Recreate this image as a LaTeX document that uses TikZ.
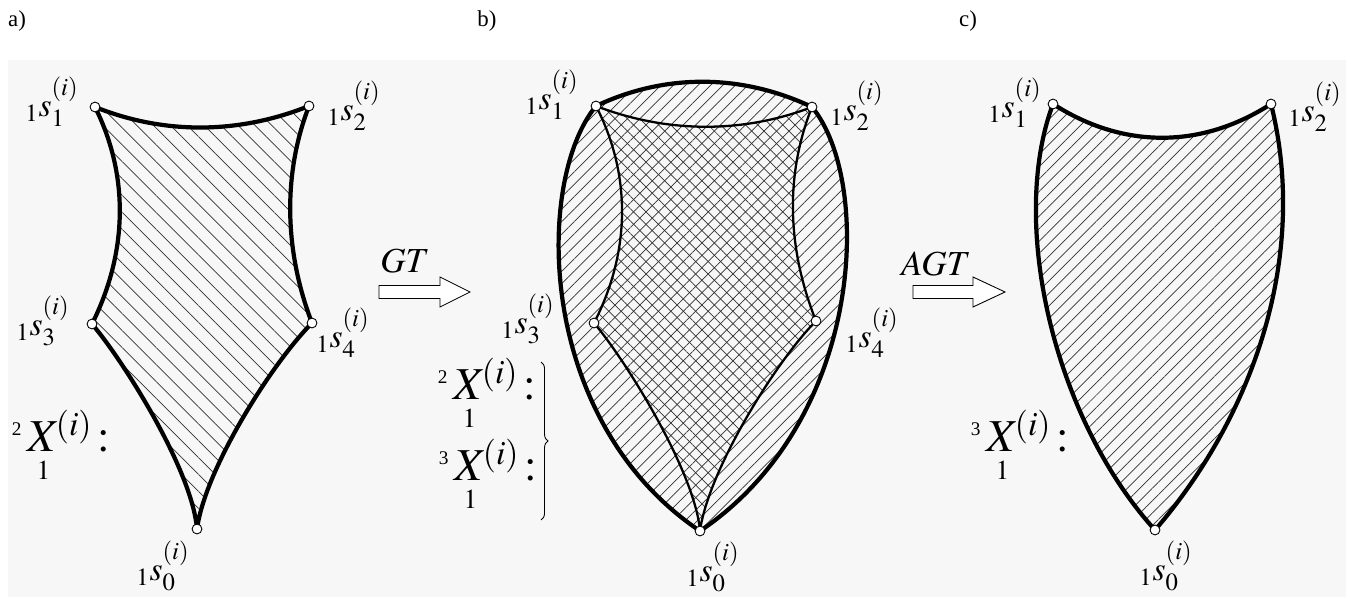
\documentclass[tikz,border=0pt]{standalone}
\usepackage{amsmath}
\usepackage{mathptmx}
\usepackage[no-math]{fontspec}
\setmainfont{Liberation Serif}
\usetikzlibrary{patterns.meta, decorations.pathreplacing}
\definecolor{panelbg}{RGB}{247,247,247}
\definecolor{hatch}{RGB}{50,50,50}
\tikzset{
  vertex/.style={circle, draw, fill=white, line width=0.5pt, minimum size=5.6pt, inner sep=0pt},
  border/.style={line width=2.4pt, line join=round, line cap=round},
  inner/.style={line width=1.3pt, line join=round, line cap=round},
  backhatch/.style={pattern={Lines[angle=-45, distance=6.8pt, line width=0.4pt]}, pattern color=hatch},
  forthatch/.style={pattern={Lines[angle=45, distance=5pt, line width=0.4pt]}, pattern color=hatch},
  crosshatch/.style={pattern={Lines[angle=-45, distance=5pt, line width=0.4pt]}, pattern color=hatch},
  slabel/.style={font=\fontsize{19}{22}\selectfont, inner sep=0pt},
  xlabel/.style={font=\fontsize{26}{30}\selectfont, inner sep=0pt},
  arrowlabel/.style={font=\fontsize{20}{22}\selectfont, inner sep=0pt},
  tag/.style={font=\fontsize{13}{15}\selectfont, inner sep=0pt},
  blockarrow/.style={draw, fill=white, line width=0.5pt, line join=miter},
  brace/.style={decorate, decoration={brace, amplitude=4pt}, line width=0.5pt},
}
\newcommand{\slab}[1]{${}_1s_{#1}^{\raisebox{5pt}{$\scriptstyle(i)$}}$}
\newcommand{\xlab}[1]{${}^{\text{\fontsize{11}{11}\selectfont #1}}\,\underset{\scriptscriptstyle 1}{X}{}^{\!(i)}\,\mathord{:}$}

\begin{document}
\begin{tikzpicture}[x=0.02cm, y=-0.02cm]
\useasboundingbox (0,0) rectangle (1354,597);
\fill[panelbg] (8,60) rectangle (1346,597);

% panel tags
\node[tag] (taga) at (17,21) {a)};
\node[tag] (tagb) at (487,21) {b)};
\node[tag] (tagc) at (968,21) {c)};

% a) two-sided region
\coordinate (a0) at (197,529);
\coordinate (a1) at (95,107);
\coordinate (a2) at (309,106);
\coordinate (a3) at (92,324);
\coordinate (a4) at (312,323);
\draw[border, backhatch] (a1) .. controls +(70,28) and +(-70,28) .. (a2)
  .. controls +(-27,70) and +(-27,-70) .. (a4)
  .. controls +(-40,40) and +(8,-60) .. (a0)
  .. controls +(-5,-60) and +(30,35) .. (a3)
  .. controls +(35,-70) and +(35,70) .. (a1) -- cycle;

% b) outer and inner region
\coordinate (b0) at (700,531);
\coordinate (b1) at (596,106);
\coordinate (b2) at (812,107);
\coordinate (b3) at (594,323);
\coordinate (b4) at (816,321);
\draw[border, forthatch] (b1) .. controls +(70,-33) and +(-70,-33) .. (b2)
  .. controls +(61,74) and +(165,-111) .. (b0)
  .. controls +(-165,-111) and +(-61,74) .. (b1) -- cycle;
\draw[inner, crosshatch] (b1) .. controls +(70,27) and +(-70,27) .. (b2)
  .. controls +(-28,70) and +(-28,-70) .. (b4)
  .. controls +(-40,40) and +(8,-60) .. (b0)
  .. controls +(-5,-60) and +(30,35) .. (b3)
  .. controls +(36,-70) and +(36,70) .. (b1) -- cycle;

% c) result
\coordinate (c0) at (1155,530);
\coordinate (c1) at (1053,104);
\coordinate (c2) at (1271,104);
\draw[border, forthatch] (c1) .. controls +(70,45) and +(-70,45) .. (c2)
  .. controls +(39,156) and +(95,-110) .. (c0)
  .. controls +(-100,-110) and +(-45,120) .. (c1) -- cycle;

\foreach \v in {a0,a1,a2,a3,a4,b0,b1,b2,b3,b4,c0,c1,c2}
  \node[vertex] (\v dot) at (\v) {};

% vertex labels
\node[slabel] (a1lab) at (52,102) {\slab{1}};
\node[slabel] (a2lab) at (354,106) {\slab{2}};
\node[slabel] (a3lab) at (43,321) {\slab{3}};
\node[slabel] (a4lab) at (343,333) {\slab{4}};
\node[slabel] (a0lab) at (163,566) {\slab{0}};
\node[slabel] (b1lab) at (552,95) {\slab{1}};
\node[slabel] (b2lab) at (857,106) {\slab{2}};
\node[slabel] (b3lab) at (528,319) {\slab{3}};
\node[slabel] (b4lab) at (872,333) {\slab{4}};
\node[slabel] (b0lab) at (713,567) {\slab{0}};
\node[slabel] (c1lab) at (1015,103) {\slab{1}};
\node[slabel] (c2lab) at (1315,107) {\slab{2}};
\node[slabel] (c0lab) at (1166,566) {\slab{0}};

% set labels
\node[xlabel] (xa) at (61,447) {\xlab{2}};
\node[xlabel] (xb2) at (487,395) {\xlab{2}};
\node[xlabel] (xb3) at (488,476) {\xlab{3}};
\node[xlabel] (xc) at (1020,447) {\xlab{3}};
\coordinate (bracetop) at (541,362);
\coordinate (bracebot) at (541,520);
\draw[brace] (bracetop) -- (bracebot);

% transitions
\coordinate (gt) at (379,292);
\draw[blockarrow] (gt) ++(0,-6.5) -- ++(61,0) -- ++(0,-8.5) -- ++(30,15)
  -- ++(-30,15) -- ++(0,-8.5) -- ++(-61,0) -- cycle;
\node[arrowlabel] (gtlab) at (405,261) {$GT$};
\coordinate (agt) at (913,292);
\draw[blockarrow] (agt) ++(0,-6.5) -- ++(60,0) -- ++(0,-8.5) -- ++(32,15)
  -- ++(-32,15) -- ++(0,-8.5) -- ++(-60,0) -- cycle;
\node[arrowlabel] (agtlab) at (936,264) {$AGT$};
\end{tikzpicture}
\end{document}
